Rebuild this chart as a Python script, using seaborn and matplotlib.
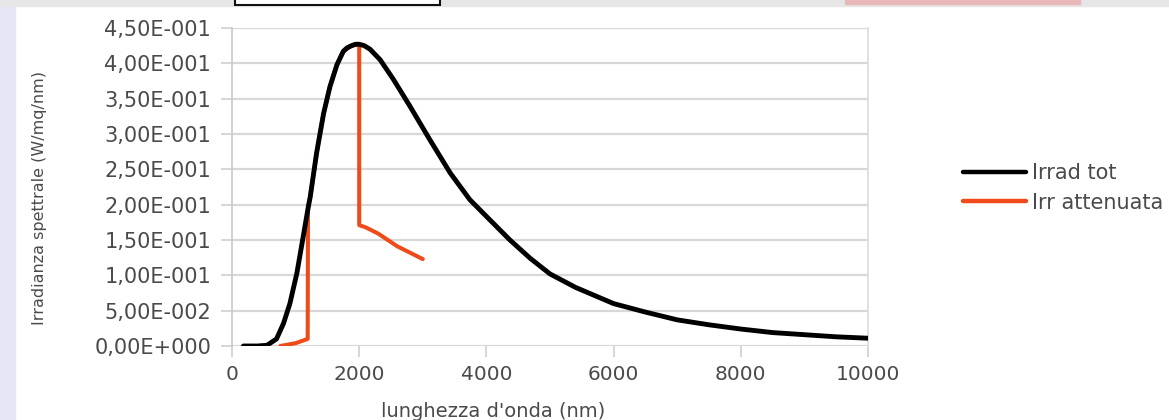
import matplotlib
matplotlib.use("Agg")
import matplotlib.pyplot as plt
import matplotlib.patches as mpatches
import seaborn as sns
from matplotlib.ticker import FuncFormatter, MultipleLocator

# values
wl_tot = [180, 400, 550, 700, 810, 910, 1020, 1120, 1200, 1230, 1330, 1440,
          1540, 1650, 1750, 1810, 1880, 1940, 2000, 2080, 2170, 2330, 2540,
          2800, 3110, 3430, 3740, 4060, 4370, 4690, 5000, 5400, 6000, 6500,
          7000, 7500, 8000, 8500, 9000, 9500, 10000]
irr_tot = [0.0, 0.0, 0.001, 0.010, 0.032, 0.060, 0.103, 0.155, 0.197, 0.211,
           0.273, 0.329, 0.367, 0.398, 0.417, 0.422, 0.425, 0.427, 0.427,
           0.425, 0.420, 0.405, 0.377, 0.339, 0.292, 0.245, 0.207, 0.178,
           0.150, 0.124, 0.102, 0.083, 0.060, 0.048, 0.037, 0.030, 0.024,
           0.019, 0.016, 0.013, 0.011]

wl_att = [760, 1000, 1190, 1195, 1230, 1330, 1440, 1540, 1650, 1750, 1880,
          2000, 2000, 2100, 2300, 2600, 3000]
irr_att = [0.0, 0.004, 0.010, 0.197, 0.211, 0.273, 0.329, 0.367, 0.398,
           0.417, 0.425, 0.427, 0.171, 0.168, 0.159, 0.141, 0.123]

series_names = ["Irrad tot", "Irr attenuata"]
x_ticks = [0, 2000, 4000, 6000, 8000, 10000]
x_label = "lunghezza d'onda (nm)"
y_label = "Irradianza spettrale (W/mq/nm)"


def excel_sci(v, pos=None):
    mant, exp = f"{v:.2e}".split("e")
    exp = int(exp)
    sign = "-" if exp < 0 else "+"
    return f"{mant.replace('.', ',')}E{sign}{abs(exp):03d}"


sns.set_theme(style="white")
plt.rcParams["font.family"] = ["DejaVu Sans"]

fig = plt.figure(figsize=(11.69, 4.2), dpi=100)
W, H = 1169, 420
text_col = "#4a4a4a"

# cropped bits of the surrounding page
fig.patches.append(mpatches.Rectangle((0, 0), 15 / W, 1, transform=fig.transFigure,
                                      color="#e6e6f7", zorder=0))
fig.patches.append(mpatches.Rectangle((0, 1 - 6 / H), 1, 6 / H, transform=fig.transFigure,
                                      color="#e6e6e6", zorder=0))
fig.patches.append(mpatches.Rectangle((235 / W, 1 - 5 / H), 205 / W, 8 / H,
                                      transform=fig.transFigure, facecolor="white",
                                      edgecolor="#111111", linewidth=1.5, zorder=1))
fig.patches.append(mpatches.Rectangle((845 / W, 1 - 4 / H), 235 / W, 4 / H,
                                      transform=fig.transFigure, color="#e8b8b8", zorder=1))

ax = fig.add_axes([232 / W, 74 / H, 636 / W, 318 / H])

sns.lineplot(x=wl_att, y=irr_att, sort=False, estimator=None, color="#ee4a1a",
             linewidth=2.9, ax=ax, label=series_names[1], zorder=2)
sns.lineplot(x=wl_tot, y=irr_tot, sort=False, estimator=None, color="black",
             linewidth=3.5, ax=ax, label=series_names[0], zorder=3)

ax.set_xlim(0, 10000)
ax.set_ylim(0, 0.45)
ax.set_xticks(x_ticks)
ax.yaxis.set_major_locator(MultipleLocator(0.05))
ax.yaxis.set_major_formatter(FuncFormatter(excel_sci))

ax.grid(axis="y", color="#d8d8d8", linewidth=1.6)
ax.set_axisbelow(True)
for side in ["top", "bottom"]:
    ax.spines[side].set_visible(False)
ax.spines["left"].set_color("#c8c8c8")
ax.spines["right"].set_color("#dcdcdc")
ax.spines["left"].set_linewidth(1.2)
ax.spines["right"].set_linewidth(1.2)

ax.tick_params(axis="y", left=True, length=8, width=1.2, color="#d0d0d0",
               labelsize=15, labelcolor=text_col, pad=7)
ax.tick_params(axis="x", bottom=True, length=8, width=1.2, color="#d0d0d0",
               labelsize=14.5, labelcolor=text_col, pad=6)

ax.set_xlabel(x_label, fontsize=14, color=text_col)
ax.xaxis.set_label_coords(0.41, -0.176)
ax.set_ylabel(y_label, fontsize=11.5, color=text_col)
ax.yaxis.set_label_coords(-0.291, 0.465)

handles, labels = ax.get_legend_handles_labels()
order = [labels.index(n) for n in series_names]
leg = ax.legend([handles[i] for i in order], [labels[i] for i in order],
                loc="center left", bbox_to_anchor=(1.12, 0.497), frameon=False,
                fontsize=15, handlelength=3.0, handletextpad=0.3, labelspacing=0.45,
                labelcolor=text_col)
for line in leg.get_lines():
    line.set_linewidth(3.2)

fig.savefig("out.png", dpi=100)
